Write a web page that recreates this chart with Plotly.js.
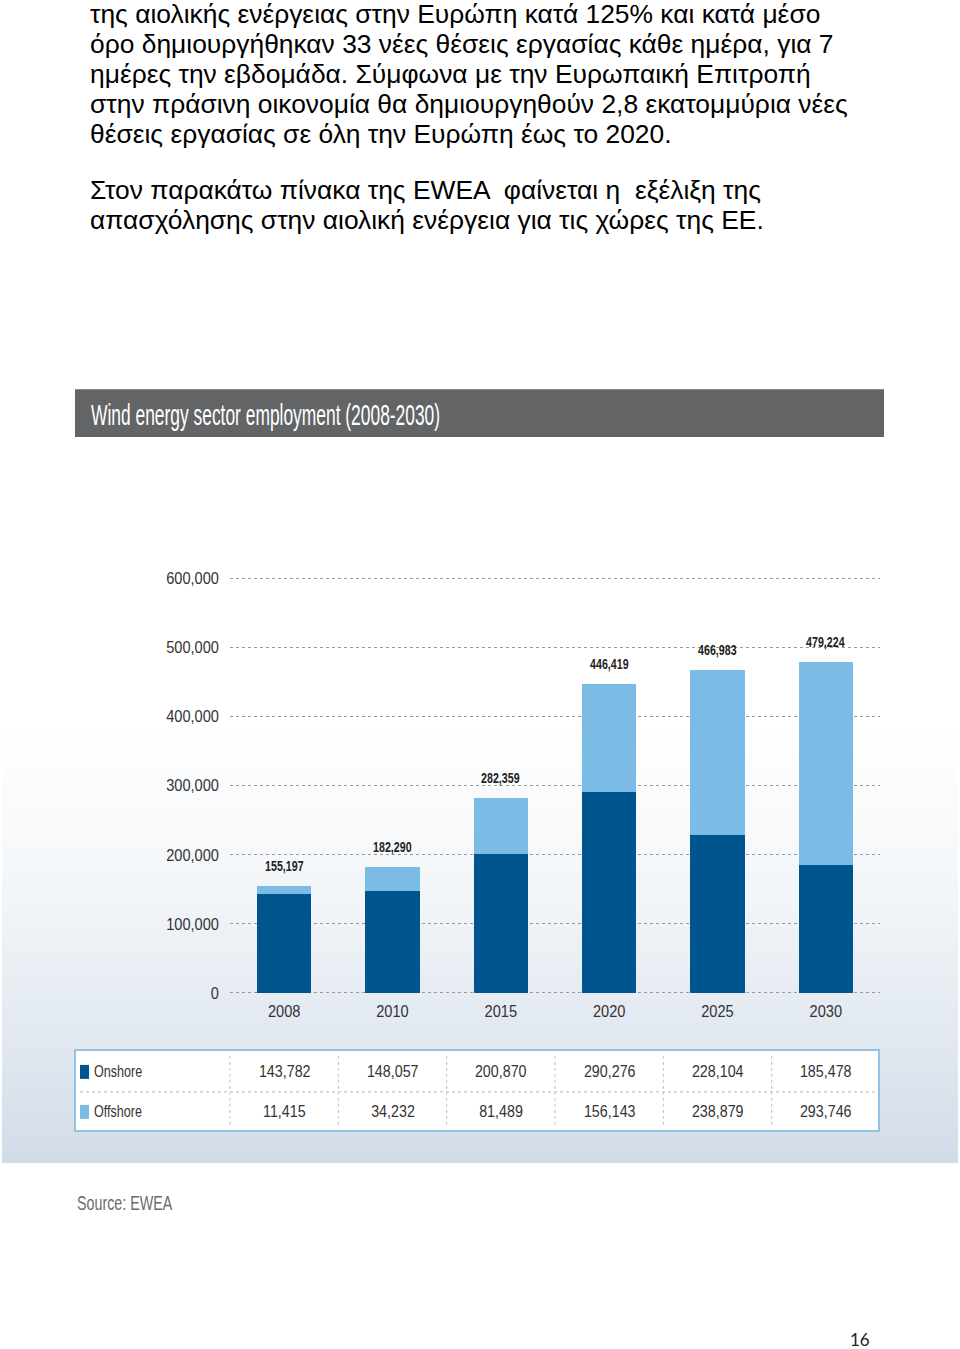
<!DOCTYPE html>
<html>
<head>
<meta charset="utf-8">
<script src="https://cdn.plot.ly/plotly-3.0.1.min.js"></script>
<style>
  html, body { margin: 0; padding: 0; background: #ffffff; }
  #page { position: relative; width: 960px; height: 1349px; overflow: hidden; background: #ffffff; }
  #grad { position: absolute; left: 2px; top: 437px; width: 956px; height: 726px;
          background: linear-gradient(to bottom, #ffffff 0%, #ffffff 40%, #f3f6f9 62%, #d2dce8 100%); }
  .ln { position: absolute; left: 90px; font-family: "Liberation Sans", Arial, sans-serif; font-size: 26.4px;
        line-height: 30px; color: #000; white-space: pre; }
  #chart { position: absolute; left: 0; top: 0; width: 960px; height: 1349px; }
  #pnum { position: absolute; left: 850px; top: 1329px; font-family: Lato, "Open Sans", sans-serif; font-size: 17px; color: #222; }
</style>
</head>
<body>
<div id="page">
  <div id="grad"></div>
  <div id="text"></div>
  <div id="chart"></div>
  <div id="pnum">16</div>
</div>
<script>
// ---- Text of the page ----
const paragraphLines = [
  "της αιολικής ενέργειας στην Ευρώπη κατά 125% και κατά μέσο",
  "όρο δημιουργήθηκαν 33 νέες θέσεις εργασίας κάθε ημέρα, για 7",
  "ημέρες την εβδομάδα. Σύμφωνα με την Ευρωπαική Επιτροπή",
  "στην πράσινη οικονομία θα δημιουργηθούν 2,8 εκατομμύρια νέες",
  "θέσεις εργασίας σε όλη την Ευρώπη έως το 2020.",
  "Στον παρακάτω πίνακα της EWEA  φαίνεται η  εξέλιξη της",
  "απασχόλησης στην αιολική ενέργεια για τις χώρες της ΕΕ."
];

// ---- Chart data ----
const chartTitle = "Wind energy sector employment (2008-2030)";
const years = ["2008", "2010", "2015", "2020", "2025", "2030"];
const onshore = [143782, 148057, 200870, 290276, 228104, 185478];
const offshore = [11415, 34232, 81489, 156143, 238879, 293746];
const totals = [155197, 182290, 282359, 446419, 466983, 479224];
const yTickVals = [0, 100000, 200000, 300000, 400000, 500000, 600000];
const seriesNames = ["Onshore", "Offshore"];
const sourceText = "Source: EWEA";

// ---- Paragraph ----
const lineCenters = [14, 44, 74, 104, 134, 190, 220];
const textBox = document.getElementById("text");
paragraphLines.forEach((t, i) => {
  const d = document.createElement("div");
  d.className = "ln";
  d.style.top = (lineCenters[i] - 15) + "px";
  d.textContent = t;
  textBox.appendChild(d);
});

// ---- Geometry helpers (pixel -> paper) ----
const L = 230, R = 880, T = 578, B = 993;
const K = (B - T) / 600000;          // px per unit
const PADV = 3000;                    // small range padding so edge gridlines show
const fx = px => (px - L) / (R - L);
const plotTop = T - PADV * K, plotBot = B + PADV * K;
const fy = py => (plotBot - py) / (plotBot - plotTop);

const FONT = "Liberation Sans, Arial, sans-serif";
const darkBlue = "#00558f";
const lightBlue = "#7abce6";
const fmt = v => v.toLocaleString("en-US");

const traces = [
  { type: "bar", name: seriesNames[0], x: years, y: onshore, marker: { color: darkBlue }, hoverinfo: "skip" },
  { type: "bar", name: seriesNames[1], x: years, y: offshore, marker: { color: lightBlue }, hoverinfo: "skip" }
];

const shapes = [];
const annotations = [];
const annFx = [];   // horizontal condensing for each annotation: [scale, anchor]
function addAnn(a, s, anchor) { annotations.push(a); annFx.push([s, anchor]); }

// Title bar
shapes.push({ type: "rect", xref: "paper", yref: "paper", x0: fx(75), x1: fx(884), y0: fy(437), y1: fy(389),
  fillcolor: "#636466", line: { width: 0 }, layer: "below" });
addAnn({ xref: "paper", yref: "paper", x: fx(89), y: fy(414), xanchor: "left", yanchor: "middle",
  text: chartTitle, showarrow: false, font: { family: FONT, size: 30, color: "#ffffff" } }, 0.58, "left");

// Total labels above bars (x given as category index)
years.forEach((yr, i) => {
  addAnn({ x: i, y: totals[i], xref: "x", yref: "y", yanchor: "bottom", yshift: 10,
    text: fmt(totals[i]), showarrow: false, font: { family: FONT, size: 14, color: "#222222", weight: "bold" } }, 0.76, "center");
});

// Data table under chart
const colStep = (R - L) / years.length;
shapes.push({ type: "rect", xref: "paper", yref: "paper", x0: fx(75), x1: fx(879), y0: fy(1131), y1: fy(1050),
  fillcolor: "#ffffff", line: { color: "#93c2e2", width: 2 }, layer: "below" });
shapes.push({ type: "line", xref: "paper", yref: "paper", x0: fx(80), x1: fx(875), y0: fy(1092), y1: fy(1092),
  line: { color: "#b5b9bd", width: 1, dash: "dot" } });
years.forEach((yr, i) => {
  const xs = fx(L + colStep * i);
  shapes.push({ type: "line", xref: "paper", yref: "paper", x0: xs, x1: xs, y0: fy(1056), y1: fy(1127),
    line: { color: "#b5c4cf", width: 1, dash: "dot" } });
});
const rowY = [1072, 1112];
const rowColors = [darkBlue, lightBlue];
const rowData = [onshore, offshore];
seriesNames.forEach((nm, r) => {
  shapes.push({ type: "rect", xref: "paper", yref: "paper", x0: fx(80), x1: fx(89), y0: fy(rowY[r] + 7), y1: fy(rowY[r] - 7),
    fillcolor: rowColors[r], line: { width: 0 } });
  addAnn({ xref: "paper", yref: "paper", x: fx(92), y: fy(rowY[r]), xanchor: "left", yanchor: "middle",
    text: nm, showarrow: false, font: { family: FONT, size: 17, color: "#333333" } }, 0.74, "left");
  years.forEach((yr, i) => {
    addAnn({ xref: "x", yref: "paper", x: i, y: fy(rowY[r]), xanchor: "center", yanchor: "middle",
      text: fmt(rowData[r][i]), showarrow: false, font: { family: FONT, size: 17, color: "#333333" } }, 0.84, "center");
  });
});

// Source
addAnn({ xref: "paper", yref: "paper", x: fx(75), y: fy(1203), xanchor: "left", yanchor: "middle",
  text: sourceText, showarrow: false, font: { family: FONT, size: 21, color: "#6b6b6b" } }, 0.68, "left");

const layout = {
  width: 960, height: 1349, autosize: false,
  margin: { l: L, r: 960 - R, t: plotTop, b: 1349 - plotBot, pad: 0 },
  paper_bgcolor: "rgba(0,0,0,0)", plot_bgcolor: "rgba(0,0,0,0)",
  barmode: "stack", bargap: 0.5, showlegend: false,
  xaxis: { type: "category", range: [-0.5, years.length - 0.5], autorange: false, showgrid: false, zeroline: false,
    showline: false, ticks: "", tickfont: { family: FONT, size: 17, color: "#333333" }, ticklabelstandoff: 4, fixedrange: true },
  yaxis: { range: [-PADV, 600000 + PADV], autorange: false, tickvals: yTickVals, tickformat: ",d", showgrid: true,
    gridcolor: "#9a9a9a", gridwidth: 1, griddash: "dot", zeroline: false, showline: false, ticks: "", ticklabelstandoff: 10,
    tickfont: { family: FONT, size: 17, color: "#333333" }, fixedrange: true },
  shapes: shapes, annotations: annotations
};

// Condense text horizontally (reference uses a narrow typeface)
function condense(el, s, anchor) {
  const bb = el.getBBox();
  const ax = anchor === "left" ? bb.x : anchor === "right" ? bb.x + bb.width : bb.x + bb.width / 2;
  const prev = el.getAttribute("transform") || "";
  el.setAttribute("transform", (prev + " translate(" + ax + ",0) scale(" + s + ",1) translate(" + (-ax) + ",0)").trim());
}

Plotly.newPlot("chart", traces, layout, { displayModeBar: false, staticPlot: true }).then(gd => {
  gd.querySelectorAll(".ytick text").forEach(t => condense(t, 0.86, "right"));
  gd.querySelectorAll(".xtick text").forEach(t => condense(t, 0.86, "center"));
  gd.querySelectorAll("g.annotation").forEach(g => {
    const i = +g.getAttribute("data-index");
    const t = g.querySelector("text");
    if (t && annFx[i]) condense(t, annFx[i][0], annFx[i][1]);
  });
});
</script>
</body>
</html>
